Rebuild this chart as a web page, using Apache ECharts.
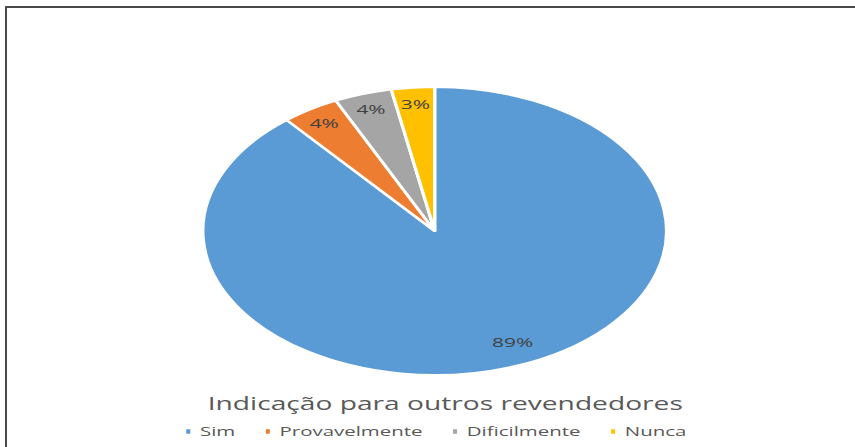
<!DOCTYPE html>
<html>
<head>
<meta charset="utf-8">
<script src="https://cdn.jsdelivr.net/npm/echarts@6/dist/echarts.min.js"></script>
<style>
  html, body { margin: 0; padding: 0; width: 855px; height: 447px; overflow: hidden; background: #fff; }
  #frame { position: absolute; left: 5px; top: 6px; width: 900px; height: 500px; border: 2px solid #4a4a4a; box-sizing: border-box; }
  /* the source picture is stretched sideways, so the chart is drawn round and scaled */
  #chart-container { position: absolute; left: 0; top: 0; width: 540px; height: 447px; transform: scaleX(1.61); transform-origin: 0 0; }
</style>
</head>
<body>
<div id="frame"></div>
<div id="chart-container"></div>
<script>
var dom = document.getElementById('chart-container');
var myChart = echarts.init(dom, null, {
    renderer: 'svg',
    useDirtyRect: false
});

var categories = ['Sim', 'Provavelmente', 'Dificilmente', 'Nunca'];
var values = [89, 4, 4, 3];
var colors = ['#5B9BD5', '#ED7D31', '#A5A5A5', '#FFC000'];

var data = categories.map(function (name, i) {
    return { name: name, value: values[i], itemStyle: { color: colors[i] } };
});

var option = {
    animation: false,
    title: {
        text: 'Indicação para outros revendedores',
        left: 124,
        top: 389,
        textStyle: {
            fontFamily: 'Open Sans',
            fontSize: 17.5,
            fontWeight: 'normal',
            color: '#595959'
        }
    },
    legend: {
        data: categories,
        left: 'center',
        top: 420,
        itemWidth: 4.5,
        itemHeight: 6.5,
        itemGap: 17,
        icon: 'rect',
        textStyle: {
            fontFamily: 'Open Sans',
            fontSize: 12.7,
            color: '#595959'
        }
    },
    series: [
        {
            type: 'pie',
            center: [270, 231],
            radius: [0, 144],
            startAngle: 90,
            clockwise: true,
            data: data,
            itemStyle: { borderColor: '#fff', borderWidth: 2 },
            label: { show: false },
            labelLine: { show: false }
        },
        {
            // transparent ring, only used to put the labels near the rim
            type: 'pie',
            center: [270, 231],
            radius: [105, 145],
            startAngle: 90,
            clockwise: true,
            silent: true,
            data: data.map(function (d, i) {
                var item = { name: d.name, value: d.value, itemStyle: { color: 'rgba(0,0,0,0)' } };
                if (i === 0) {
                    item.label = { offset: [5, -10] };
                }
                return item;
            }),
            label: {
                show: true,
                position: 'inside',
                formatter: '{d}%',
                fontFamily: 'Open Sans',
                fontSize: 13,
                color: '#404040'
            },
            labelLine: { show: false }
        }
    ]
};

if (option && typeof option === 'object') {
    myChart.setOption(option);
}

window.addEventListener('resize', myChart.resize);
</script>
</body>
</html>
